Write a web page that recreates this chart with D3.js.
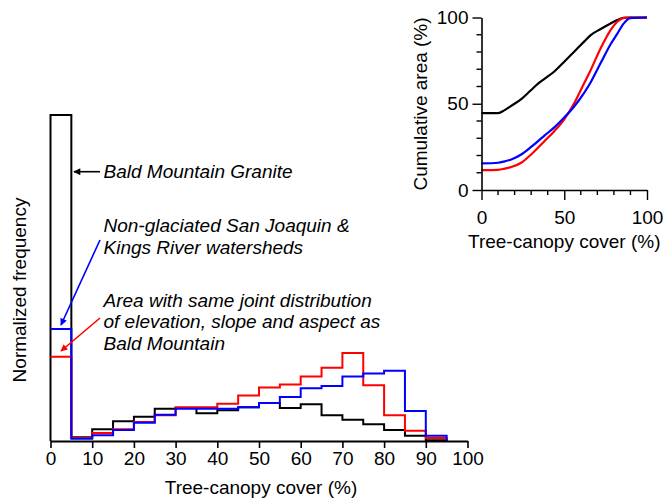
<!DOCTYPE html>
<html>
<head>
<meta charset="utf-8">
<script src="https://cdn.jsdelivr.net/npm/d3@7"></script>
<style>
  body { margin: 0; background: #fff; }
  svg { display: block; font-family: "Liberation Sans", Arial, sans-serif; }
</style>
</head>
<body>
<svg id="chart" width="663" height="499"></svg>
<script>
"use strict";

// 5% bins of tree-canopy cover, values in % of area
const binEdges = [0,5,10,15,20,25,30,35,40,45,50,55,60,65,70,75,80,85,90,95];
const graniteFreq = [44.5,0.5,1.6,2.7,3.3,4.4,4.5,3.8,4.2,4.6,5.2,4.5,5.0,3.5,2.9,2.3,1.5,0.7,0.1];
const watershedFreq = [15.3,0.3,0.8,1.5,2.5,3.6,4.4,4.4,4.4,4.6,5.2,6.0,7.2,7.5,8.8,9.2,9.6,4.1,0.7];
const matchedFreq = [11.5,0.4,1.1,1.6,2.6,3.5,4.6,4.6,5.1,6.2,7.3,7.7,8.8,10.0,12.0,7.6,3.5,1.4,0.4];
const xTicks = [0,10,20,30,40,50,60,70,80,90,100];

// inset: cumulative area curves
const cumCover = [0,10,14,18,24,30,34,38,44,50,56,62,66,72,78,82,86,90,100];
const graniteCum = [44.6,44.6,46.3,48.8,52.7,58,61.5,64.4,68.7,74.4,80.2,86,89.8,93.3,96.5,98.5,99.8,100,100];
const watershedCum = [15.4,15.8,16.6,17.7,20.6,25,28.2,31.5,36.3,42,48.4,56.3,62.5,73.6,84.5,90.5,96.6,99.6,100];
const matchedCum = [11.5,11.7,12.4,13.3,15.8,20.6,24.3,28.3,34.1,41,50.3,61.9,69.6,82.2,92.7,97.5,99.8,100,100];
const insetMajor = [0,50,100];
const insetMinor = [10,20,30,40,60,70,80,90];

const svg = d3.select("#chart");
const fontSize = "19px";

// ---- main histogram ----
const x = d3.scaleLinear().domain([0, 100]).range([50.5, 467.5]);
const y = d3.scaleLinear().domain([0, 44.5]).range([441, 115]);

function stepPoints(vals, fromBase){
  const pts = fromBase ? [[0, 0]] : [];
  vals.forEach((v, i) => {
    pts.push([binEdges[i], v], [binEdges[i] + 5, v]);
  });
  pts.push([binEdges[vals.length - 1] + 5, 0]);
  return pts;
}
const stepLine = d3.line().x(d => x(d[0])).y(d => y(d[1]));

// black first so the coloured outlines sit on top; only the granite bar gets a left edge
const series = [
  {vals: graniteFreq, color: "#000", base: true},
  {vals: matchedFreq, color: "#ff0000", base: false},
  {vals: watershedFreq, color: "#0000ff", base: false}
];
svg.append("g").selectAll("path").data(series).join("path")
  .attr("d", d => stepLine(stepPoints(d.vals, d.base)))
  .attr("fill", "none").attr("stroke", d => d.color)
  .attr("stroke-width", 2).attr("stroke-linejoin", "miter");

const xAxis = svg.append("g").attr("transform", "translate(0,441)")
  .call(d3.axisBottom(x).tickValues(xTicks).tickSize(7).tickSizeOuter(0).tickPadding(4));
xAxis.select(".domain").attr("stroke-width", 2);
xAxis.selectAll(".tick line").attr("stroke-width", 1.6);
xAxis.selectAll("text").attr("font-size", fontSize).attr("fill", "#000")
  .attr("font-family", "Liberation Sans, Arial, sans-serif");

svg.append("text").attr("x", x(50) + 2).attr("y", 494).attr("text-anchor", "middle")
  .attr("font-size", fontSize).text("Tree-canopy cover (%)");
svg.append("text").attr("transform", "translate(26,290) rotate(-90)")
  .attr("text-anchor", "middle").attr("font-size", fontSize).text("Normalized frequency");

// ---- annotations ----
const defs = svg.append("defs");
[["black", "#000"], ["red", "#ff0000"], ["blue", "#0000ff"]].forEach(([id, c]) => {
  defs.append("marker").attr("id", "arrow-" + id)
    .attr("viewBox", "0 0 10 10").attr("refX", 9).attr("refY", 5)
    .attr("markerWidth", 8).attr("markerHeight", 7).attr("markerUnits", "userSpaceOnUse")
    .attr("orient", "auto")
    .append("path").attr("d", "M0,0L10,5L0,10z").attr("fill", c);
});

const arrows = [
  {from: [100, 171.7], to: [74, 171.7], id: "black", c: "#000"},
  {from: [100, 240], to: [61, 325], id: "blue", c: "#0000ff"},
  {from: [100, 318], to: [61, 351], id: "red", c: "#ff0000"}
];
svg.append("g").selectAll("line").data(arrows).join("line")
  .attr("x1", d => d.from[0]).attr("y1", d => d.from[1])
  .attr("x2", d => d.to[0]).attr("y2", d => d.to[1])
  .attr("stroke", d => d.c).attr("stroke-width", 1.6)
  .attr("marker-end", d => `url(#arrow-${d.id})`);

const notes = [
  ["Bald Mountain Granite", 178],
  ["Non-glaciated San Joaquin &", 232],
  ["Kings River watersheds", 253.5],
  ["Area with same joint distribution", 306.5],
  ["of elevation, slope and aspect as", 328],
  ["Bald Mountain", 349.5]
];
svg.append("g").selectAll("text").data(notes).join("text")
  .attr("x", 103.5).attr("y", d => d[1])
  .attr("font-size", fontSize).attr("font-style", "italic").text(d => d[0]);

// ---- inset: cumulative area ----
const ix = d3.scaleLinear().domain([0, 100]).range([481.5, 647]);
const iy = d3.scaleLinear().domain([0, 100]).range([190, 17.5]);
const inset = svg.append("g");

const cumLine = d3.line().x((d, i) => ix(cumCover[i])).y(d => iy(d)).curve(d3.curveMonotoneX);
inset.selectAll("path.cum").data([
  {vals: graniteCum, color: "#000"},
  {vals: matchedCum, color: "#ff0000"},
  {vals: watershedCum, color: "#0000ff"}
]).join("path").attr("class", "cum")
  .attr("d", d => cumLine(d.vals))
  .attr("fill", "none").attr("stroke", d => d.color).attr("stroke-width", 2.2);

const ixAxis = inset.append("g").attr("transform", "translate(0,190)")
  .call(d3.axisBottom(ix).tickValues(insetMajor).tickSize(10).tickSizeOuter(0).tickPadding(11));
ixAxis.append("g").selectAll("line").data(insetMinor).join("line")
  .attr("x1", d => ix(d)).attr("x2", d => ix(d)).attr("y1", 0).attr("y2", 5)
  .attr("stroke", "#000").attr("stroke-width", 1.4);

const iyAxis = inset.append("g").attr("transform", "translate(481.5,0)")
  .call(d3.axisLeft(iy).tickValues(insetMajor).tickSize(9).tickSizeOuter(0).tickPadding(4));
iyAxis.append("g").selectAll("line").data(insetMinor).join("line")
  .attr("y1", d => iy(d)).attr("y2", d => iy(d)).attr("x1", 0).attr("x2", -5)
  .attr("stroke", "#000").attr("stroke-width", 1.4);

[ixAxis, iyAxis].forEach(a => {
  a.select(".domain").attr("stroke-width", 1.6);
  a.selectAll(".tick line").attr("stroke-width", 1.4);
  a.selectAll("text").attr("font-size", fontSize).attr("fill", "#000")
    .attr("font-family", "Liberation Sans, Arial, sans-serif");
});

inset.append("text").attr("x", ix(50)).attr("y", 248).attr("text-anchor", "middle")
  .attr("font-size", fontSize).text("Tree-canopy cover (%)");
inset.append("text").attr("transform", "translate(427,104) rotate(-90)")
  .attr("text-anchor", "middle").attr("font-size", fontSize).text("Cumulative area (%)");
</script>
</body>
</html>
